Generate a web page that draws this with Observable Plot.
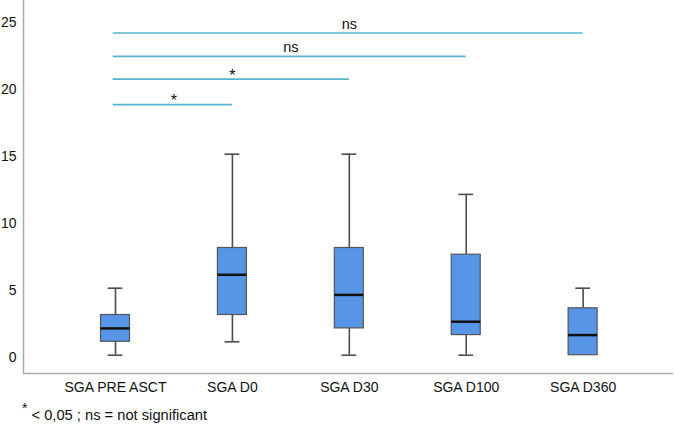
<!DOCTYPE html>
<html>
<head>
<meta charset="utf-8">
<script src="https://cdn.jsdelivr.net/npm/d3@7"></script>
<script src="https://cdn.jsdelivr.net/npm/@observablehq/plot@0.6"></script>
<style>
  html, body { margin: 0; padding: 0; background: #fff; }
  body { width: 675px; height: 427px; overflow: hidden; font-family: "Liberation Sans", Arial, sans-serif; }
  #caption { position: absolute; left: 22px; top: 401px; font-size: 14.7px; color: #111; white-space: nowrap; }
  #caption sup { font-size: 14px; position: relative; top: -1px; }
</style>
</head>
<body>
<div id="chart"></div>
<div id="caption"><sup>*</sup> &lt; 0,05 ; ns = not significant</div>
<script>
// Box-plot summaries
const categories = ["SGA PRE ASCT", "SGA D0", "SGA D30", "SGA D100", "SGA D360"];
const whiskerLow  = [0, 1, 0, 0, 0];
const q1          = [1, 3, 2, 1.5, 0];
const median      = [2, 6, 4.5, 2.5, 1.5];
const q3          = [3, 8, 8, 7.5, 3.5];
const whiskerHigh = [5, 15, 15, 12, 5];

// Significance comparisons
const compFrom  = ["SGA PRE ASCT", "SGA PRE ASCT", "SGA PRE ASCT", "SGA PRE ASCT"];
const compTo    = ["SGA D0", "SGA D30", "SGA D100", "SGA D360"];
const compLevel = [18.7, 20.6, 22.3, 24.05];
const compLabel = ["*", "*", "ns", "ns"];

const yTicks = [0, 5, 10, 15, 20, 25];

const idx = c => categories.indexOf(c);
const boxes = categories.map((c, i) => ({
  i, c, lo: whiskerLow[i], q1: q1[i], med: median[i], q3: q3[i], hi: whiskerHigh[i]
}));
const comps = compFrom.map((f, k) => ({
  a: idx(f), b: idx(compTo[k]), y: compLevel[k], label: compLabel[k]
}));

const BOX = 0.124, CAP = 0.063;
const grey = "#4d4d4d";

const chart = Plot.plot({
  width: 675,
  height: 400,
  marginLeft: 23,
  marginRight: 2,
  marginTop: 0,
  marginBottom: 27,
  style: { fontFamily: "'Liberation Sans', Arial, sans-serif", fontSize: "14px", color: "#111", background: "#fff" },
  x: { type: "linear", domain: [-0.787, 4.773], axis: null },
  y: { domain: [-1.366, 26.47], axis: null },
  marks: [
    // axes
    Plot.axisY(yTicks, { tickSize: 0, tickPadding: 7, fontSize: 14, dy: 2, tickFormat: d => d }),
    Plot.axisX(categories.map((c, i) => i), { tickSize: 0, tickPadding: 9, fontSize: 14, tickFormat: i => categories[i], letterSpacing: "-0.2px" }),
    Plot.ruleX([-0.787], { stroke: "#aaaaaa", strokeWidth: 1.5 }),
    Plot.ruleY([-1.366], { stroke: "#aaaaaa", strokeWidth: 1.5 }),
    // whiskers
    Plot.ruleX(boxes.filter(d => d.lo < d.q1), { x: "i", y1: "lo", y2: "q1", stroke: grey, strokeWidth: 1.6 }),
    Plot.ruleX(boxes.filter(d => d.hi > d.q3), { x: "i", y1: "q3", y2: "hi", stroke: grey, strokeWidth: 1.6 }),
    Plot.ruleY(boxes.filter(d => d.lo < d.q1), { y: "lo", x1: d => d.i - CAP, x2: d => d.i + CAP, stroke: grey, strokeWidth: 1.6 }),
    Plot.ruleY(boxes.filter(d => d.hi > d.q3), { y: "hi", x1: d => d.i - CAP, x2: d => d.i + CAP, stroke: grey, strokeWidth: 1.6 }),
    // boxes
    Plot.rect(boxes, { x1: d => d.i - BOX, x2: d => d.i + BOX, y1: "q1", y2: "q3", fill: "#5796e6", stroke: "#555", strokeWidth: 1.2 }),
    Plot.ruleY(boxes, { y: "med", x1: d => d.i - BOX, x2: d => d.i + BOX, stroke: "#111", strokeWidth: 2.5 }),
    // significance bars
    Plot.ruleY(comps, { y: "y", x1: d => d.a - 0.02, x2: "b", stroke: "#56b3cf", strokeWidth: 1.6 }),
    Plot.text(comps.filter(d => d.label === "ns"), { x: d => (d.a + d.b) / 2, y: "y", text: "label", lineAnchor: "bottom", dy: -4, fontSize: 14.5, fill: "#111" }),
    Plot.text(comps.filter(d => d.label !== "ns"), { x: d => (d.a + d.b) / 2, y: "y", text: "label", lineAnchor: "bottom", dy: 1.5, fontSize: 16, fill: "#111" })
  ]
});
document.getElementById("chart").appendChild(chart);
</script>
</body>
</html>
